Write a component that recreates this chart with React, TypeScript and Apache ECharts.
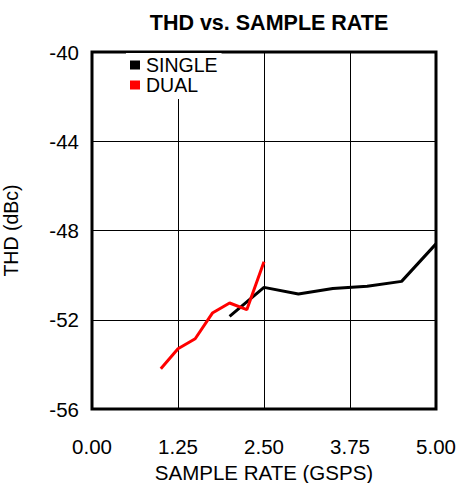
import React, { useEffect, useRef } from "react";
import * as echarts from "echarts";

const title = "THD vs. SAMPLE RATE";
const xName = "SAMPLE RATE (GSPS)";
const yName = "THD (dBc)";

const singleX = [2.0, 2.5, 3.0, 3.5, 4.0, 4.5, 5.0];
const singleY = [-51.85, -50.55, -50.85, -50.6, -50.5, -50.28, -48.6];

const dualX = [1.0, 1.25, 1.5, 1.75, 2.0, 2.25, 2.5];
const dualY = [-54.2, -53.3, -52.85, -51.7, -51.25, -51.55, -49.4];

const FONT = "Liberation Sans, Arial, sans-serif";

export default function App() {
  const ref = useRef<HTMLDivElement>(null);
  useEffect(() => {
    if (!ref.current) return;
    const chart = echarts.init(ref.current, undefined, { renderer: "svg" });
    chart.setOption({
      animation: false,
      backgroundColor: "#fff",
      title: {
        text: title,
        left: 264,
        textAlign: "center",
        top: 7,
        textStyle: { fontFamily: FONT, fontSize: 21.5, fontWeight: "bold", color: "#000" },
      },
      legend: {
        orient: "vertical",
        left: 126,
        top: 53,
        itemWidth: 10,
        itemHeight: 9,
        itemGap: 0,
        icon: "rect",
        backgroundColor: "#fff",
        padding: [2, 4, 4, 4],
        textStyle: { fontFamily: FONT, fontSize: 19.5, color: "#000", padding: [0, 0, 0, 1] },
        data: ["SINGLE", "DUAL"],
      },
      grid: {
        left: 92,
        right: 22,
        top: 52,
        bottom: 74,
        outerBoundsMode: "none",
        containLabel: false,
        show: true,
        borderColor: "#000",
        borderWidth: 3,
        backgroundColor: "transparent",
      },
      xAxis: {
        type: "value",
        min: 0,
        max: 5,
        interval: 1.25,
        name: xName,
        nameLocation: "middle",
        nameGap: 48,
        nameTextStyle: { fontFamily: FONT, fontSize: 20.5, color: "#000" },
        axisLine: { show: false },
        axisTick: { show: false },
        axisLabel: {
          margin: 27,
          fontFamily: FONT,
          fontSize: 20.5,
          color: "#000",
          formatter: (v: number) => v.toFixed(2),
        },
        splitLine: { show: true, lineStyle: { color: "#000", width: 1 } },
      },
      yAxis: {
        type: "value",
        min: -56,
        max: -40,
        interval: 4,
        name: yName,
        nameLocation: "middle",
        nameRotate: 90,
        nameGap: 71,
        nameTextStyle: { fontFamily: FONT, fontSize: 19.5, color: "#000" },
        axisLine: { show: false },
        axisTick: { show: false },
        axisLabel: { margin: 13, fontFamily: FONT, fontSize: 20.5, color: "#000" },
        splitLine: { show: true, lineStyle: { color: "#000", width: 1 } },
      },
      series: [
        {
          name: "SINGLE",
          type: "line",
          data: singleX.map((x, i) => [x, singleY[i]]),
          showSymbol: false,
          symbol: "none",
          lineStyle: { color: "#000", width: 3 },
          itemStyle: { color: "#000" },
          z: 3,
        },
        {
          name: "DUAL",
          type: "line",
          data: dualX.map((x, i) => [x, dualY[i]]),
          showSymbol: false,
          symbol: "none",
          lineStyle: { color: "#ff0000", width: 3 },
          itemStyle: { color: "#ff0000" },
          z: 4,
        },
      ],
    });
    return () => chart.dispose();
  }, []);
  return <div ref={ref} style={{ width: 458, height: 483, position: "absolute", left: 0, top: 0 }} />;
}
